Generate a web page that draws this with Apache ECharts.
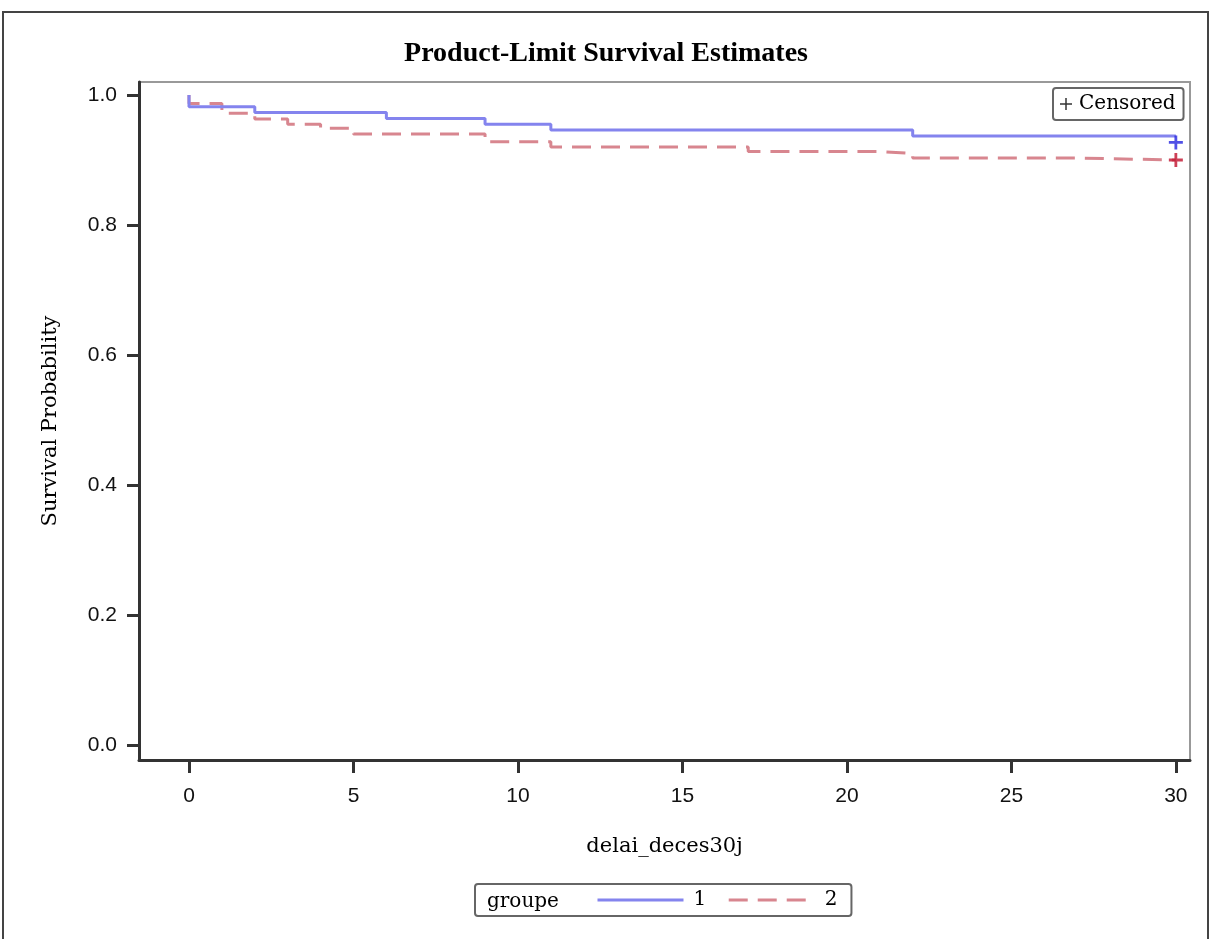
<!DOCTYPE html>
<html>
<head>
<meta charset="utf-8">
<script src="https://cdn.jsdelivr.net/npm/echarts@6/dist/echarts.min.js"></script>
<style>
html,body{margin:0;padding:0;background:#fff;}
#chart{width:1212px;height:939px;}
</style>
</head>
<body>
<div id="chart"></div>
<script>
// ---- data ----
const xTicks = [0, 5, 10, 15, 20, 25, 30];
const yTicks = [0.0, 0.2, 0.4, 0.6, 0.8, 1.0];
const group1Time = [0, 0, 2, 6, 9, 11, 22, 30];
const group1Surv = [1.0, 0.982, 0.973, 0.964, 0.955, 0.946, 0.937, 0.937];
const group2Time = [0, 0, 1, 2, 3, 4, 5, 9, 11, 17, 21, 22, 27, 30];
const group2Surv = [1.0, 0.987, 0.972, 0.963, 0.955, 0.949, 0.940, 0.928, 0.920, 0.913, 0.910, 0.903, 0.900, 0.900];
const censorTime = [30, 30];
const censorSurv = [0.927, 0.900];
const groupNames = ['1', '2'];

const serif = '"DejaVu Serif", "Liberation Serif", serif';
const sans = '"Liberation Sans", Arial, sans-serif';
const plusThick = 'path://M4,0h2v4h4v2h-4v4h-2v-4h-4v-2h4z';
const plusThin = 'path://M5.25,0h1.5v5.25h5.25v1.5h-5.25v5.25h-1.5v-5.25h-5.25v-1.5h5.25z';
const censorColors = ['#2424DE', '#C0102C'];

const zip = (a, b) => a.map((v, i) => [v, b[i]]);

const chart = echarts.init(document.getElementById('chart'), null, {renderer: 'canvas'});
chart.setOption({
  animation: false,
  backgroundColor: '#fff',
  title: {
    text: 'Product-Limit Survival Estimates',
    left: 'center',
    top: 35,
    textStyle: {fontFamily: '"Liberation Serif", "Times New Roman", serif', fontWeight: 'bold', fontSize: 28, color: '#000'}
  },
  grid: {
    left: 139, right: 22, top: 82, bottom: 179,
    show: true, borderColor: '#999', borderWidth: 2,
    outerBoundsMode: 'none'
  },
  xAxis: {
    type: 'value', min: -1.52, max: 30.43,
    name: 'delai_deces30j', nameLocation: 'middle', nameGap: 76,
    nameTextStyle: {fontFamily: serif, fontSize: 21, color: '#000'},
    axisLine: {onZero: false, lineStyle: {color: '#333', width: 3}},
    axisTick: {show: true, length: 13, lineStyle: {color: '#333', width: 3}, customValues: xTicks},
    axisLabel: {customValues: xTicks, margin: 26, fontFamily: sans, fontSize: 21, color: '#111'},
    splitLine: {show: false}
  },
  yAxis: {
    type: 'value', min: -0.0231, max: 1.02,
    name: 'Survival Probability', nameLocation: 'middle', nameGap: 78,
    nameTextStyle: {fontFamily: serif, fontSize: 21, color: '#000'},
    axisLine: {show: true, onZero: false, lineStyle: {color: '#333', width: 3}},
    axisTick: {show: true, length: 12, lineStyle: {color: '#333', width: 3}, customValues: yTicks},
    axisLabel: {customValues: yTicks, margin: 22, fontFamily: sans, fontSize: 21, color: '#111',
      formatter: v => Number(v).toFixed(1)},
    splitLine: {show: false}
  },
  legend: [
    {
      data: groupNames,
      left: 475, top: 884,
      orient: 'horizontal',
      padding: [6, 14, 6, 121],
      borderColor: '#666', borderWidth: 2, borderRadius: 3,
      itemWidth: 86, itemHeight: 14, itemGap: 21,
      lineStyle: {width: 3},
      itemStyle: {opacity: 0},
      textStyle: {fontFamily: serif, fontSize: 20, color: '#000', padding: [0, 0, 0, 5]},
      selectedMode: false
    },
    {
      data: [{name: 'Censored', icon: plusThin}],
      left: 1053, top: 88,
      padding: [6, 8, 6, 7],
      borderColor: '#666', borderWidth: 2, borderRadius: 3,
      itemWidth: 12, itemHeight: 12,
      textStyle: {fontFamily: serif, fontSize: 20, color: '#000', padding: [0, 0, 0, 2]},
      selectedMode: false
    }
  ],
  graphic: [
    {type: 'rect', shape: {x: 3, y: 12, width: 1205, height: 960}, style: {fill: 'none', stroke: '#444', lineWidth: 2}, silent: true},
    {type: 'text', left: 487, top: 892, style: {text: 'groupe', font: '20px "DejaVu Serif", serif', fill: '#000'}, silent: true}
  ],
  series: [
    {
      name: groupNames[0], type: 'line', step: 'end', symbol: 'none',
      data: zip(group1Time, group1Surv),
      lineStyle: {color: '#8484EE', width: 3},
      itemStyle: {color: '#8484EE'},
      z: 3
    },
    {
      name: groupNames[1], type: 'line', step: 'end', symbol: 'none',
      data: zip(group2Time, group2Surv),
      lineStyle: {color: '#D8868F', width: 3, type: [19, 10]},
      itemStyle: {color: '#D8868F'},
      z: 2
    },
    {
      name: 'Censored', type: 'scatter', symbol: plusThick, symbolSize: 14,
      itemStyle: {color: '#000'},
      data: censorTime.map((t, i) => ({value: [t, censorSurv[i]], itemStyle: {color: censorColors[i]}})),
      z: 5
    }
  ]
});
</script>
</body>
</html>
